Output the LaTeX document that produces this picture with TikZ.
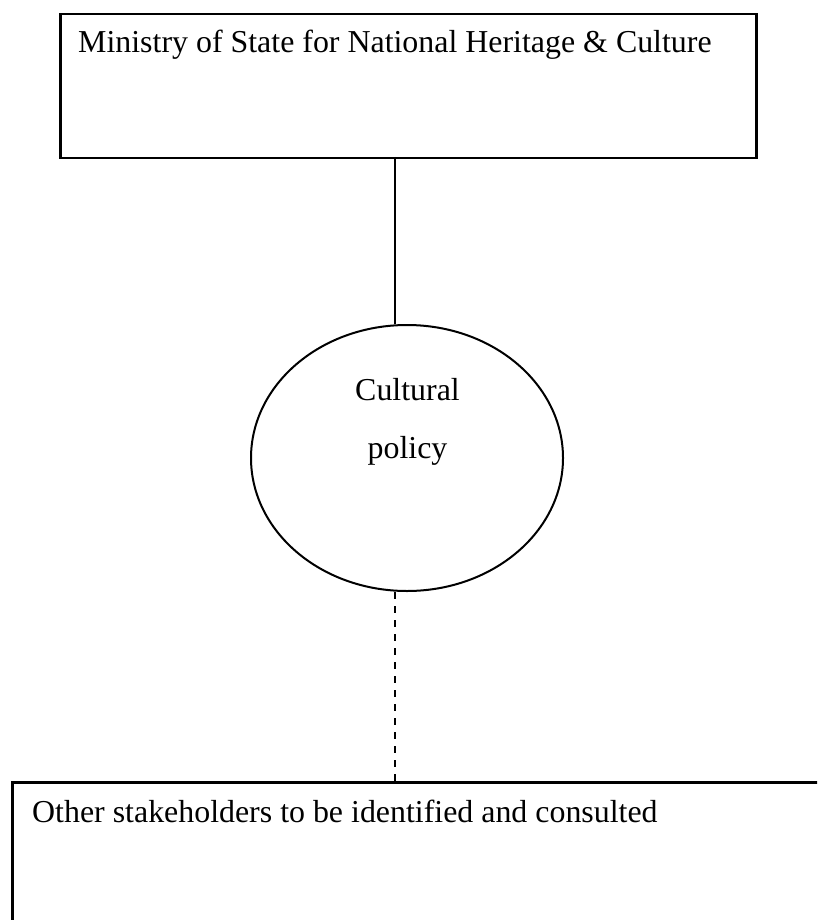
\documentclass[tikz,border=0pt]{standalone}
\usepackage{fontspec}
\setmainfont{Liberation Serif}
\usetikzlibrary{shapes.geometric}
\tikzset{
  boxshape/.style={draw, line width=2.5pt, rectangle, inner sep=0pt, anchor=north west},
  ellshape/.style={draw, line width=2pt, ellipse, inner sep=0pt, minimum width=312pt, minimum height=266pt},
  lbl/.style={inner sep=0pt, font=\fontsize{31.9pt}{38pt}\selectfont},
  conn/.style={line width=2pt},
  dconn/.style={line width=2pt, dash pattern=on 7pt off 7pt}
}
\begin{document}
\begin{tikzpicture}[x=1pt,y=-1pt]
\useasboundingbox (0,0) rectangle (817,920);
\clip (0,0) rectangle (817,920);
\fill[white] (0,0) rectangle (817,920);
% top box
\node[boxshape, minimum width=696pt, minimum height=144pt] (top) at (59,13) {};
\node[lbl, anchor=base west] (toplbl) at (78,53) {Ministry of State for National Heritage \& Culture};
% ellipse
\node[ellshape] (ell) at (407,458) {};
\node[lbl, anchor=base] (ell1) at (407.5,400) {Cultural};
\node[lbl, anchor=base] (ell2) at (407.5,458) {policy};
% bottom box
\node[boxshape, minimum width=830pt, minimum height=170pt] (bot) at (11,781) {};
\node[lbl, anchor=base west] (botlbl) at (32,822) {Other stakeholders to be identified and consulted};
% connectors
\coordinate (a1) at (395,157);
\draw[conn] (a1) -- (a1 |- ell.north);
\draw[dconn] (a1 |- ell.south) -- (a1 |- bot.north);
\end{tikzpicture}
\end{document}
